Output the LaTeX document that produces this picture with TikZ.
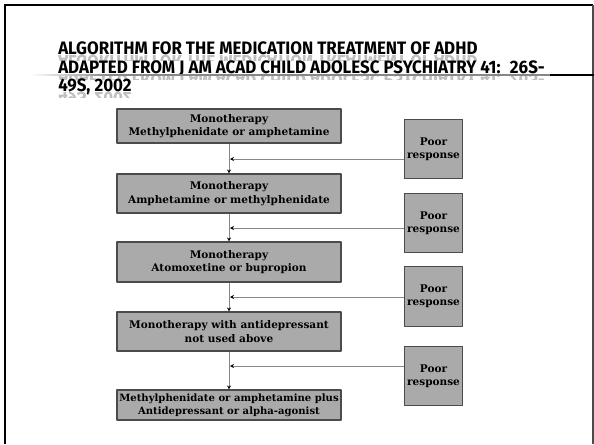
\documentclass[tikz,border=0pt]{standalone}
\usepackage{fontspec}
\usepackage{graphicx}
\newfontfamily\titlefont[FakeStretch=0.94]{Fira Sans}
\newfontfamily\boxfont{DejaVu Serif}
\usetikzlibrary{arrows.meta}
\definecolor{boxgray}{RGB}{170,170,170}
\definecolor{edgegray}{RGB}{75,75,75}
\definecolor{linegray}{RGB}{135,135,135}
\tikzset{
  stepbox/.style={draw=edgegray,fill=boxgray,line width=0.8pt,align=center,
    minimum width=168pt,inner sep=1pt,font=\boxfont\bfseries\fontsize{7.9}{10}\selectfont},
  poorbox/.style={stepbox,minimum width=44pt,minimum height=44.5pt},
  flow/.style={linegray,line width=0.7pt,-{Stealth[length=3pt,width=3pt,color=black]}},
  titleline/.style={anchor=base west,inner sep=0pt,font=\titlefont\bfseries\fontsize{13.5}{15}\selectfont}
}
\begin{document}
\begin{tikzpicture}[x=0.75pt,y=-0.75pt,line join=round]
\useasboundingbox (0,0) rectangle (594,444);
% slide frame
\draw[line width=2pt] (5,4) -- (5,444);
\draw[line width=1.1pt] (5,5) -- (593,5);
\draw[edgegray,line width=1.1pt] (593,5) -- (593,444);
% title with its reflection
\foreach \yb/\txt in {54/{ALGORITHM FOR THE MEDICATION TREATMENT OF ADHD},
    73/{ADAPTED FROM J AM ACAD CHILD ADOLESC PSYCHIATRY 41:~ 26S-},
    91/{49S, 2002}}{
  \begin{scope}
    \clip (40,\yb) rectangle (594,\yb+6);
    \node[titleline,text=black!25] at (58,\yb+1) {\scalebox{1}[-1]{\txt}};
  \end{scope}
  \node[titleline] at (58,\yb) {\txt};
}
\shade[left color=white,right color=linegray] (30,74.4) rectangle (110,75.6);
\draw[linegray,line width=0.9pt] (110,75) -- (550,75);
\draw[line width=1.4pt] (550,75) -- (594,75);
% treatment steps
\node[stepbox,minimum height=25.5pt] (b1) at (229,126) {Monotherapy\\Methylphenidate or amphetamine};
\node[stepbox,minimum height=29.25pt] (b2) at (229,193.5) {Monotherapy\\Amphetamine or methylphenidate};
\node[stepbox,minimum height=30pt] (b3) at (229,262) {Monotherapy\\Atomoxetine or bupropion};
\node[stepbox,minimum height=29.25pt] (b4) at (229,331.5) {Monotherapy with antidepressant\\not used above};
\node[stepbox,minimum height=22.5pt,inner xsep=0pt,font=\boxfont\bfseries\fontsize{7.55}{10}\selectfont]
  (b5) at (229,405) {Methylphenidate or amphetamine plus\\Antidepressant or alpha-agonist};
\foreach \a/\b in {b1/b2,b2/b3,b3/b4,b4/b5} \draw[flow] (\a) -- (\b);
% poor response feedback
\foreach \i/\yp/\yl in {1/149/159,2/223/228,3/296.5/297,4/376/366}{
  \node[poorbox] (p\i) at (433.5,\yp) {Poor\\response};
  \coordinate (j\i) at (230,\yl);
  \draw[flow] (p\i.west |- j\i) -- (j\i);
}
\end{tikzpicture}
\end{document}
